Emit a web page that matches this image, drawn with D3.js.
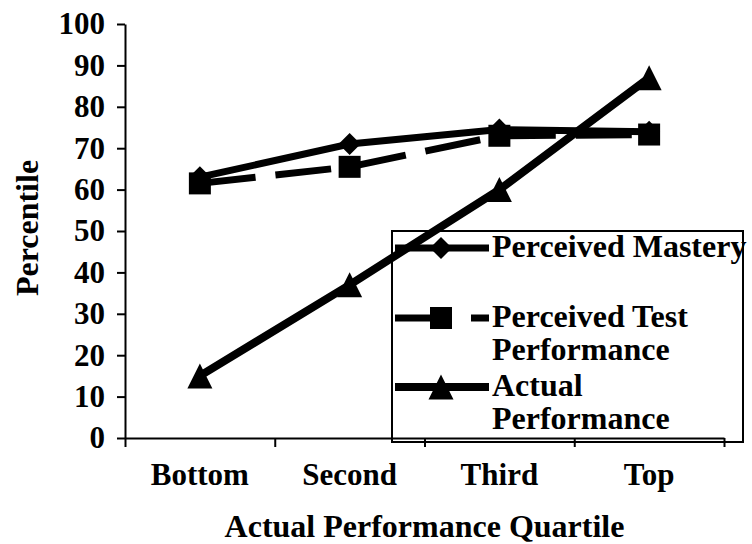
<!DOCTYPE html>
<html>
<head>
<meta charset="utf-8">
<script src="https://cdn.jsdelivr.net/npm/d3@7/dist/d3.min.js"></script>
<style>
  body { margin: 0; background: #fff; }
  svg text { font-family: "Liberation Serif", "Times New Roman", serif; font-weight: bold; fill: #000; }
  .axis path, .axis line { stroke: #000; stroke-width: 2; }
</style>
</head>
<body>
<div class="chart-container"></div>
<script>
// Data.
const categories = ['Bottom', 'Second', 'Third', 'Top'];
const perceivedMastery = [63, 71, 74.5, 74];
const perceivedTest = [61.5, 65.5, 73, 73.3];
const actualPerformance = [15, 37, 60, 87];
const yTickValues = [0, 10, 20, 30, 40, 50, 60, 70, 80, 90, 100];
const legendLabels = [
  ['Perceived Mastery'],
  ['Perceived Test', 'Performance'],
  ['Actual', 'Performance'],
];

// Margin convention.
const margin = { top: 24, right: 28, bottom: 106, left: 125 };
const chartWidth = 752, chartHeight = 544;
const width = chartWidth - margin.left - margin.right;
const height = chartHeight - margin.top - margin.bottom;

// Scales.
const xScale = d3.scaleBand().domain(categories).range([0, width]);
const xEdges = d3.scaleLinear().domain([0, categories.length]).range([0, width]);
const yScale = d3.scaleLinear().domain([0, 100]).range([height, 0]);

const svg = d3.select('.chart-container')
  .append('svg')
  .attr('width', chartWidth)
  .attr('height', chartHeight)
  .append('g')
  .attr('transform', `translate(${margin.left},${margin.top})`);

// Marker shapes.
const diamond = d3.symbol().type(d3.symbolSquare).size(242)();
const square = d3.symbol().type(d3.symbolSquare).size(484)();
const triangle = 'M0,-12.5L12.5,12.5L-12.5,12.5Z';

const series = [
  { name: 'Perceived Mastery', values: perceivedMastery, marker: diamond, rotate: 45, width: 7, dash: null },
  { name: 'Perceived Test Performance', values: perceivedTest, marker: square, rotate: 0, width: 7, dash: '56,20' },
  { name: 'Actual Performance', values: actualPerformance, marker: triangle, rotate: 0, width: 8, dash: null },
];

// Axes.
svg.append('g')
  .attr('class', 'y axis')
  .call(d3.axisLeft(yScale).tickValues(yTickValues).tickSize(8).tickSizeOuter(0).tickPadding(12))
  .call(g => g.selectAll('text').style('font-size', '31px'));

svg.append('g')
  .attr('class', 'x axis')
  .attr('transform', `translate(0,${height})`)
  .call(d3.axisBottom(xEdges).ticks(categories.length).tickSize(9).tickSizeOuter(0).tickFormat(''));

svg.append('g')
  .attr('class', 'x axis labels')
  .attr('transform', `translate(0,${height})`)
  .call(d3.axisBottom(xScale).tickSize(0).tickPadding(25))
  .call(g => g.select('.domain').remove())
  .call(g => g.selectAll('text').style('font-size', '31px'));

// Axis titles.
svg.append('text')
  .attr('x', width / 2)
  .attr('y', height + 99)
  .attr('text-anchor', 'middle')
  .style('font-size', '32px')
  .text('Actual Performance Quartile');

svg.append('text')
  .attr('transform', `translate(${-87},${height / 2 - 3}) rotate(-90)`)
  .attr('text-anchor', 'middle')
  .style('font-size', '32px')
  .text('Percentile');

// Legend.
const legend = svg.append('g').attr('class', 'legend').attr('transform', 'translate(267,207)');
legend.append('rect')
  .attr('width', 351)
  .attr('height', 211)
  .attr('fill', 'none')
  .attr('stroke', '#000')
  .attr('stroke-width', 2);

const legendItem = legend.selectAll('.legend-item')
  .data(series)
  .join('g')
  .attr('class', 'legend-item')
  .attr('transform', (d, i) => `translate(0,${[17, 87, 156][i]})`);

legendItem.append('line')
  .attr('x1', 3).attr('x2', 97)
  .attr('stroke', '#000')
  .attr('stroke-width', d => d.width)
  .attr('stroke-dasharray', d => d.dash);

legendItem.append('path')
  .attr('d', d => d.marker)
  .attr('transform', d => `translate(49,0) rotate(${d.rotate})`)
  .attr('fill', '#000');

legendItem.append('text')
  .attr('x', 100)
  .attr('y', 9)
  .style('font-size', '32px')
  .selectAll('tspan')
  .data((d, i) => legendLabels[i])
  .join('tspan')
  .attr('x', 100)
  .attr('dy', (d, i) => i === 0 ? 0 : 33)
  .text(d => d);

// Lines and markers.
const line = d3.line()
  .x((d, i) => xScale(categories[i]) + xScale.bandwidth() / 2)
  .y(d => yScale(d));

const seriesG = svg.selectAll('.series')
  .data(series)
  .join('g')
  .attr('class', 'series');

seriesG.append('path')
  .attr('d', d => line(d.values))
  .attr('fill', 'none')
  .attr('stroke', '#000')
  .attr('stroke-width', d => d.width)
  .attr('stroke-dasharray', d => d.dash);

seriesG.selectAll('.marker')
  .data(d => d.values.map((v, i) => ({ v, i, s: d })))
  .join('path')
  .attr('class', 'marker')
  .attr('d', d => d.s.marker)
  .attr('transform', d => `translate(${xScale(categories[d.i]) + xScale.bandwidth() / 2},${yScale(d.v)}) rotate(${d.s.rotate})`)
  .attr('fill', '#000');
</script>
</body>
</html>
